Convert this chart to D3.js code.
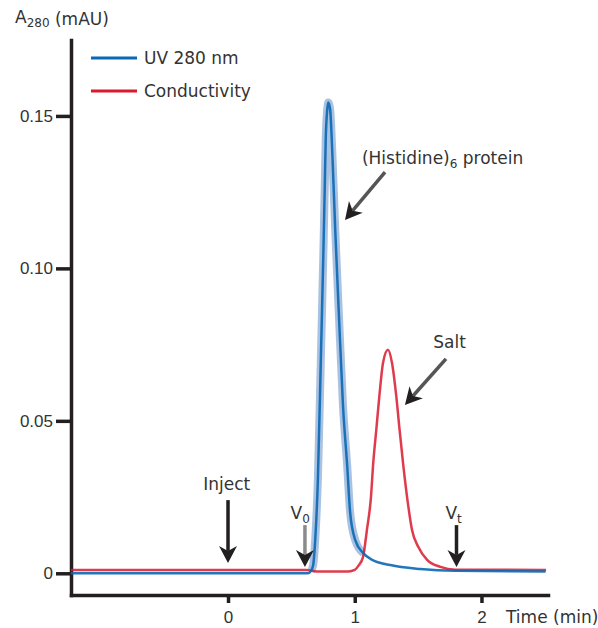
<!DOCTYPE html>
<meta charset="utf-8">
<style>
body { margin: 0; background: #fff; }
svg { font-family: "DejaVu Sans", sans-serif; }
.axis path, .axis line { stroke: #231f20; stroke-width: 3.5; }
.axis text { font-size: 17px; fill: #333; }
.lbl { font-size: 17px; fill: #333; }
</style>
<svg width="598" height="628"></svg>
<script src="https://d3js.org/d3.v7.min.js"></script>
<script>
// UV 280 nm trace (time in min, absorbance)
var uvTime  = [-1.24, 0.63, 0.655, 0.672, 0.688, 0.709, 0.733, 0.753, 0.763, 0.771, 0.783, 0.791,
               0.806, 0.822, 0.846, 0.875, 0.907, 0.941, 0.964, 1.004, 1.067, 1.138, 1.281, 1.518, 1.794, 2.506];
var uvValue = [0, 0, 0.0008, 0.0027, 0.0109, 0.0306, 0.071, 0.1061, 0.1258, 0.1422, 0.1521, 0.1544,
               0.1521, 0.139, 0.1127, 0.0848, 0.0552, 0.0349, 0.0198, 0.0109, 0.0066, 0.0044, 0.0027, 0.0014, 0.0008, 0.0006];

// conductivity trace (same scale)
var condTime  = [-1.24, 0.62, 0.70, 0.95, 1.00, 1.03, 1.065, 1.096, 1.128, 1.146, 1.17, 1.194, 1.223, 1.262,
                 1.294, 1.328, 1.354, 1.381, 1.413, 1.452, 1.502, 1.571, 1.676, 1.794, 2.51];
var condValue = [0.0011, 0.0011, 0.0006, 0.0006, 0.0011, 0.0025, 0.0053, 0.0142, 0.025, 0.0362, 0.047, 0.058, 0.069, 0.0733,
                 0.069, 0.058, 0.047, 0.0362, 0.025, 0.0142, 0.0086, 0.0044, 0.0021, 0.0012, 0.0011];

var yTicks = [0, 0.05, 0.10, 0.15];
var yTickLabels = ["0", "0.05", "0.10", "0.15"];
var xTicks = [0, 1, 2];

var seriesNames = ["UV 280 nm", "Conductivity"];
var seriesColors = ["#0a68b4", "#d9192e"];

// annotations: arrows [t0, v0] -> [t1, v1], labels at [t, v]
var arrowFrom = [[0, 0.0240], [0.607, 0.0158], [1.803, 0.0158], [1.239, 0.1316], [1.720, 0.0703]];
var arrowTo   = [[0, 0.0034], [0.607, 0.0021], [1.803, 0.0021], [0.923, 0.1159], [1.396, 0.0552]];
var arrowShaft = ["#231f20", "#8a8a8a", "#231f20", "#555", "#555"];
var labelText = ["Inject", "V", "V", "(Histidine)", "Salt"];
var labelSub  = ["", "0", "t", "6", ""];
var labelTail = ["", "", "", " protein", ""];
var labelPos  = [[-0.01, 0.0273], [0.57, 0.0178], [1.78, 0.0178], [1.057, 0.1343], [1.748, 0.0739]];
var labelAnchor = ["middle", "middle", "middle", "start", "middle"];

var svg = d3.select("svg");

var x = d3.scaleLinear().domain([-1.239, 2.525]).range([71, 548]);
var y = d3.scaleLinear().domain([-0.00712, 0.1749]).range([595, 40]);

var uv = uvTime.map(function(t, i) { return {t: t, v: uvValue[i]}; });
var cond = condTime.map(function(t, i) { return {t: t, v: condValue[i]}; });

var line = d3.line()
    .curve(d3.curveMonotoneX)
    .x(function(d) { return x(d.t); })
    .y(function(d) { return y(d.v); });

// axes
svg.append("g")
    .attr("class", "axis")
    .attr("transform", "translate(" + x.range()[0] + ",0)")
    .call(d3.axisLeft(y).tickValues(yTicks).tickSize(15).tickSizeOuter(0).tickPadding(3)
      .tickFormat(function(d, i) { return yTickLabels[i]; }))
    .call(function(g) { g.selectAll("text").attr("font-family", null).attr("font-size", null); });

svg.append("g")
    .attr("class", "axis")
    .attr("transform", "translate(0," + y.range()[0] + ")")
    .call(d3.axisBottom(x).tickValues(xTicks).tickSize(8).tickSizeOuter(0).tickPadding(8)
      .tickFormat(d3.format("d")))
    .call(function(g) { g.selectAll("text").attr("font-family", null).attr("font-size", null); });

svg.selectAll(".axis path").attr("stroke-linecap", "square");

svg.append("text")
    .attr("class", "lbl")
    .attr("x", 506)
    .attr("y", 623)
    .attr("font-size", 15.5)
    .text("Time (min)");

var yt = svg.append("text").attr("class", "lbl").attr("x", 15).attr("y", 23);
yt.append("tspan").text("A");
yt.append("tspan").attr("font-size", 12).attr("dy", 4).text("280");
yt.append("tspan").attr("dy", -2).text(" (mAU)");

// curves
svg.append("path")
    .datum(uv.filter(function(d) { return d.t > 0.64 && d.t < 1.08; }))
    .attr("fill", "none")
    .attr("stroke", "#a9c2e1")
    .attr("stroke-width", 8)
    .attr("stroke-linejoin", "round")
    .attr("d", line);

svg.append("path")
    .datum(cond)
    .attr("fill", "none")
    .attr("stroke", seriesColors[1])
    .attr("stroke-width", 2.5)
    .attr("stroke-opacity", 0.85)
    .attr("d", line);

svg.append("path")
    .datum(uv)
    .attr("fill", "none")
    .attr("stroke", seriesColors[0])
    .attr("stroke-width", 2.5)
    .attr("stroke-opacity", 0.9)
    .attr("d", line);

// legend
var legend = svg.selectAll(".legend")
    .data(seriesNames)
  .enter().append("g")
    .attr("class", "legend")
    .attr("transform", function(d, i) { return "translate(91," + (58 + i * 33) + ")"; });

legend.append("line")
    .attr("x1", 0).attr("x2", 46)
    .attr("stroke", function(d, i) { return seriesColors[i]; })
    .attr("stroke-width", 3);

legend.append("text")
    .attr("class", "lbl")
    .attr("x", 53)
    .attr("y", 6)
    .attr("font-size", 18)
    .text(function(d) { return d; });

// arrows
var head = "M0,0 L-17,-9 L-12,0 L-17,9 Z";
arrowFrom.forEach(function(p, i) {
  var x0 = x(p[0]), y0 = y(p[1]), x1 = x(arrowTo[i][0]), y1 = y(arrowTo[i][1]);
  var ang = Math.atan2(y1 - y0, x1 - x0);
  var back = 12;
  svg.append("line")
      .attr("x1", x0).attr("y1", y0)
      .attr("x2", x1 - back * Math.cos(ang)).attr("y2", y1 - back * Math.sin(ang))
      .attr("stroke", arrowShaft[i])
      .attr("stroke-width", 3.5);
  svg.append("path")
      .attr("d", head)
      .attr("fill", "#231f20")
      .attr("transform", "translate(" + x1 + "," + y1 + ") rotate(" + (ang * 180 / Math.PI) + ")");
});

// labels
labelText.forEach(function(s, i) {
  var t = svg.append("text")
      .attr("class", "lbl")
      .attr("x", x(labelPos[i][0]))
      .attr("y", y(labelPos[i][1]))
      .attr("text-anchor", labelAnchor[i]);
  t.append("tspan").text(s);
  if (labelSub[i]) t.append("tspan").attr("font-size", 12).attr("dy", 4).text(labelSub[i]);
  if (labelTail[i]) t.append("tspan").attr("dy", -4).text(labelTail[i]);
});
</script>
